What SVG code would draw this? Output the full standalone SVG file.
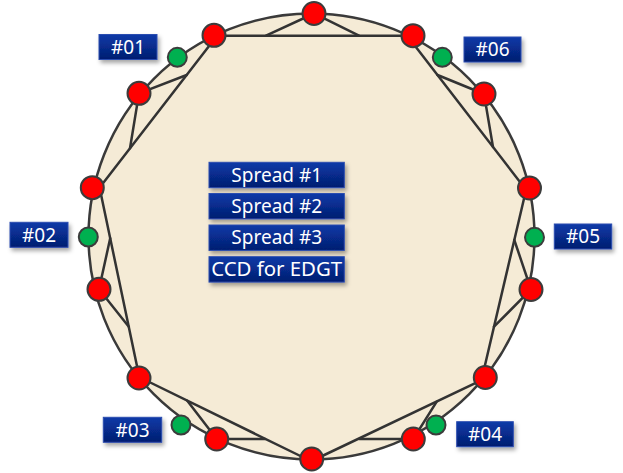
<svg xmlns="http://www.w3.org/2000/svg" width="623" height="473" viewBox="0 0 623 473">
<defs>
<linearGradient id="blue" x1="0" y1="0" x2="0" y2="1">
<stop offset="0" stop-color="#0b3aa8"/>
<stop offset="1" stop-color="#031d70"/>
</linearGradient>
<filter id="sh" x="-20%" y="-30%" width="150%" height="180%">
<feDropShadow dx="2" dy="3" stdDeviation="2" flood-color="#000" flood-opacity="0.35"/>
</filter>
<style>
.ring{fill:#f5ebd6;stroke:#3a3a3a;stroke-width:2.5}
.ln{stroke:#333;stroke-width:2.5;fill:none;stroke-linecap:round}
.red{fill:#ff0000;stroke:#3c3c3c;stroke-width:2}
.grn{fill:#00b050;stroke:#3c3c3c;stroke-width:2}
.box{fill:url(#blue);stroke:#2c4db0;stroke-width:1;filter:url(#sh)}
.lbl{font-family:"Noto Sans","Liberation Sans",sans-serif;font-size:19px;fill:#fff;text-anchor:middle}
</style>
</defs>
<rect width="623" height="473" fill="#fff"/>
<circle class="ring" cx="311.5" cy="236.5" r="223"/>
<g id="connectors">
<line class="ln" x1="214" y1="35.7" x2="413" y2="35.7"/>
<line class="ln" x1="407.2" y1="35.7" x2="524.6" y2="188"/>
<line class="ln" x1="526.5" y1="188" x2="482.1" y2="377.5"/>
<line class="ln" x1="485.3" y1="378.3" x2="311.7" y2="461"/>
<line class="ln" x1="311.7" y1="461.5" x2="139" y2="377"/>
<line class="ln" x1="139.5" y1="378" x2="99.6" y2="187.7"/>
<line class="ln" x1="99.5" y1="187.7" x2="217.2" y2="35.5"/>
<polyline class="ln" points="266,35.7 314,13.5 359,35.7"/>
<polyline class="ln" points="437.5,75 484,94 493,147"/>
<polyline class="ln" points="514.3,240 531,289.5 494,326.7"/>
<polyline class="ln" points="359.3,439 413.3,439 436.7,401.7"/>
<polyline class="ln" points="265,439 216.7,439 187.3,400.7"/>
<polyline class="ln" points="110.2,238.3 99,289.3 128.8,326.7"/>
<polyline class="ln" points="130,148.3 139,93.3 186.7,75"/>
</g>
<g id="nodes">
<circle id="r0" class="red" cx="314" cy="13.5" r="11.5"/>
<circle id="r1" class="red" cx="413" cy="35.7" r="11.5"/>
<circle id="r2" class="red" cx="484" cy="94" r="11.5"/>
<circle id="r3" class="red" cx="529.5" cy="188" r="11.5"/>
<circle id="r4" class="red" cx="531" cy="289.5" r="11.5"/>
<circle id="r5" class="red" cx="485.3" cy="377.5" r="11.5"/>
<circle id="r6" class="red" cx="413.3" cy="439" r="11.5"/>
<circle id="r7" class="red" cx="311.7" cy="459" r="11.5"/>
<circle id="r8" class="red" cx="216.7" cy="439" r="11.5"/>
<circle id="r9" class="red" cx="139" cy="378" r="11.5"/>
<circle id="r10" class="red" cx="99" cy="289.3" r="11.5"/>
<circle id="r11" class="red" cx="92.3" cy="187.7" r="11.5"/>
<circle id="r12" class="red" cx="139" cy="93.3" r="11.5"/>
<circle id="r13" class="red" cx="214" cy="35.3" r="11.5"/>
<circle id="g1" class="grn" cx="177.3" cy="57.3" r="9.5"/>
<circle id="g6" class="grn" cx="442.3" cy="57.3" r="9.5"/>
<circle id="g2" class="grn" cx="88.3" cy="237" r="9.5"/>
<circle id="g5" class="grn" cx="534.5" cy="237.3" r="9.5"/>
<circle id="g3" class="grn" cx="181" cy="425" r="9.5"/>
<circle id="g4" class="grn" cx="436" cy="425" r="9.5"/>
</g>
<g id="label01"><rect class="box" x="99" y="34.5" width="58" height="25"/><text class="lbl" x="128" y="53.5">#01</text></g>
<g id="label06"><rect class="box" x="464" y="37" width="57" height="25"/><text class="lbl" x="492.5" y="56">#06</text></g>
<g id="label02"><rect class="box" x="10" y="222.3" width="58" height="25"/><text class="lbl" x="39" y="241.5">#02</text></g>
<g id="label05"><rect class="box" x="554.3" y="224" width="57.4" height="25"/><text class="lbl" x="583" y="243">#05</text></g>
<g id="label03"><rect class="box" x="103.3" y="417.3" width="58.4" height="25"/><text class="lbl" x="132.5" y="436.5">#03</text></g>
<g id="label04"><rect class="box" x="456.7" y="421.7" width="56.6" height="25"/><text class="lbl" x="485" y="440.8">#04</text></g>
<g id="spread1"><rect class="box" x="209" y="162.3" width="135.3" height="25.4"/><text class="lbl" x="276.7" y="181.5">Spread #1</text></g>
<g id="spread2"><rect class="box" x="209" y="193.5" width="135.3" height="25.4"/><text class="lbl" x="276.7" y="212.7">Spread #2</text></g>
<g id="spread3"><rect class="box" x="209" y="225" width="135.3" height="25.4"/><text class="lbl" x="276.7" y="244.2">Spread #3</text></g>
<g id="ccd"><rect class="box" x="209" y="256.7" width="135.3" height="25.4"/><text class="lbl" x="276.7" y="275.9" textLength="131" lengthAdjust="spacingAndGlyphs">CCD for EDGT</text></g>
</svg>
